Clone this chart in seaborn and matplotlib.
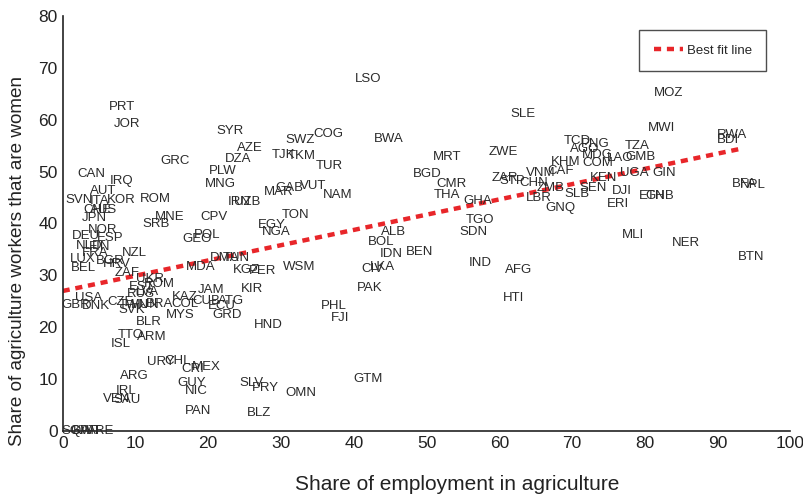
import numpy as np
import pandas as pd
import matplotlib
matplotlib.use('Agg')
import matplotlib.pyplot as plt
import seaborn as sns

sns.set_style('white')
plt.rcParams['font.family'] = ['Liberation Sans', 'DejaVu Sans']

# country codes with (share of employment in agriculture, share of ag workers that are women)
codes = ['LSO', 'PRT', 'JOR', 'SYR', 'SWZ', 'COG', 'BWA', 'AZE', 'TJK', 'TKM',
         'DZA', 'GRC', 'TUR', 'MRT', 'ZWE', 'SLE', 'MOZ', 'MWI', 'RWA', 'BDI',
         'CAN', 'IRQ', 'PLW', 'MNG', 'AUT', 'GAB', 'VUT', 'MAR', 'NAM', 'SVN',
         'ITA', 'KOR', 'ROM', 'CHE', 'AUS', 'JPN', 'MNE', 'CPV', 'SRB', 'IRN',
         'UZB', 'TON', 'EGY', 'NGA', 'POL', 'GEO', 'DEU', 'NOR', 'ESP', 'NLD',
         'FIN', 'FRA', 'NZL', 'LUX', 'BGR', 'HRV', 'BEL', 'ZAF', 'MDA', 'DMA',
         'TUN', 'KGZ', 'PER', 'WSM', 'UKR', 'ROM', 'EST', 'LVA', 'RUS', 'JAM',
         'KIR', 'PAK', 'USA', 'KAZ', 'CUB', 'ATG', 'GBR', 'DNK', 'CZE', 'TWN',
         'SVK', 'HUN', 'BRA', 'COL', 'ECU', 'GRD', 'MYS', 'BLR', 'HND', 'PHL',
         'FJI', 'TTO', 'ARM', 'ISL', 'URY', 'CHL', 'CRI', 'MEX', 'ARG', 'GUY',
         'NIC', 'IRL', 'VEN', 'SAU', 'PAN', 'SLV', 'PRY', 'OMN', 'BLZ', 'GTM',
         'SGP', 'QAT', 'KWT', 'ARE', 'CIV', 'LKA', 'IDN', 'BOL', 'ALB', 'BEN',
         'BGD', 'CMR', 'THA', 'GHA', 'TGO', 'SDN', 'IND', 'AFG', 'HTI', 'ZAR',
         'STP', 'CHN', 'VNM', 'CAF', 'ZMB', 'LBR', 'GNQ', 'SLB', 'SEN', 'KEN',
         'KHM', 'COM', 'TCD', 'PNG', 'AGO', 'MDG', 'TZA', 'LAO', 'GMB', 'UGA',
         'GIN', 'DJI', 'ERI', 'ETH', 'GNB', 'MLI', 'NER', 'BTN', 'BFA', 'NPL']

share_agri = [41.95, 8.1, 8.9, 23.0, 32.6, 36.5, 44.8, 25.7, 30.4, 32.9,
              24.1, 15.4, 36.7, 52.8, 60.5, 63.3, 83.2, 82.3, 92.0, 91.5,
              3.9, 8.1, 22.0, 21.7, 5.6, 31.1, 34.4, 29.7, 37.8, 2.3,
              5.1, 8.1, 12.8, 4.7, 5.6, 4.4, 14.7, 20.8, 12.9, 24.2,
              25.3, 32.0, 28.7, 29.3, 19.9, 18.4, 3.2, 5.5, 6.5, 3.7,
              5.1, 4.4, 9.9, 2.8, 6.5, 7.4, 2.8, 8.8, 19.0, 22.3,
              23.8, 25.2, 27.4, 32.5, 12.0, 13.3, 10.9, 11.7, 10.7, 20.4,
              26.0, 42.2, 3.6, 16.8, 19.7, 23.2, 1.8, 4.5, 8.0, 9.8,
              9.5, 11.3, 13.3, 16.8, 21.9, 22.6, 16.2, 11.8, 28.2, 37.3,
              38.1, 9.4, 12.2, 8.0, 13.5, 15.8, 17.9, 19.7, 9.9, 17.7,
              18.3, 8.7, 7.4, 8.8, 18.6, 26.0, 27.8, 32.7, 27.0, 42.0,
              1.8, 2.8, 3.4, 5.2, 42.5, 44.0, 45.1, 43.7, 45.5, 49.1,
              50.1, 53.5, 52.8, 57.1, 57.4, 56.4, 57.4, 62.7, 61.9, 60.7,
              61.8, 64.8, 65.7, 68.4, 67.0, 65.5, 68.4, 70.7, 72.9, 74.4,
              69.1, 73.5, 70.7, 73.2, 71.8, 73.5, 79.0, 76.6, 79.4, 78.5,
              82.7, 76.9, 76.3, 81.0, 82.1, 78.4, 85.7, 94.6, 93.7, 94.8]

share_women = [67.8, 62.4, 59.2, 57.8, 56.1, 57.2, 56.3, 54.5, 53.2, 53.0,
               52.4, 52.0, 51.1, 52.8, 53.8, 61.1, 65.1, 58.4, 57.0, 56.1,
               49.5, 48.2, 50.1, 47.6, 46.2, 46.8, 47.2, 46.1, 45.5, 44.5,
               44.3, 44.5, 44.7, 42.6, 42.6, 41.0, 41.2, 41.2, 39.9, 44.1,
               44.1, 41.6, 39.7, 38.3, 37.8, 37.0, 37.6, 38.7, 37.2, 35.6,
               35.5, 34.3, 34.3, 33.1, 32.8, 32.2, 31.4, 30.4, 31.6, 33.3,
               33.3, 31.0, 30.8, 31.6, 29.3, 28.3, 27.7, 26.8, 26.4, 27.2,
               27.4, 27.6, 25.6, 25.8, 25.0, 25.0, 24.3, 24.1, 24.9, 24.3,
               23.3, 24.3, 24.5, 24.5, 24.1, 22.4, 22.4, 21.0, 20.4, 24.1,
               21.8, 18.5, 18.1, 16.8, 13.3, 13.5, 11.9, 12.3, 10.6, 9.2,
               7.7, 7.7, 6.2, 6.0, 3.9, 9.2, 8.3, 7.3, 3.5, 10.0,
               0.0, 0.0, 0.0, 0.0, 31.2, 31.6, 34.1, 36.4, 38.3, 34.5,
               49.5, 47.6, 45.5, 44.3, 40.7, 38.3, 32.4, 31.0, 25.6, 48.7,
               48.2, 47.8, 49.7, 50.1, 46.8, 44.9, 43.0, 45.7, 46.8, 48.7,
               51.8, 51.6, 55.9, 55.3, 54.3, 53.2, 54.9, 52.6, 52.8, 49.7,
               49.7, 46.2, 43.7, 45.3, 45.3, 37.8, 36.2, 33.5, 47.6, 47.4]

# best fit line
fit_intercept = 27.0
fit_slope = 0.294
fit_x_range = [0, 93]

df = pd.DataFrame({'code': codes, 'agri': share_agri, 'women': share_women})
fit = pd.DataFrame({'agri': fit_x_range})
fit['women'] = fit_intercept + fit_slope * fit['agri']

fig, ax = plt.subplots(figsize=(8.04, 4.95), dpi=100)
fig.subplots_adjust(left=0.078, right=0.983, bottom=0.129, top=0.968)

sns.lineplot(data=fit, x='agri', y='women', ax=ax, color='#e8262a', lw=3.2,
             linestyle=(0, (1.6, 1.3)), label='Best fit line')

for _, r in df.iterrows():
    ax.text(r['agri'], r['women'], r['code'], ha='center', va='center',
            fontsize=9.5, color='#2a2a2a')

ax.set_xlim(0, 100)
ax.set_ylim(0, 80)
ax.set_xticks(range(0, 101, 10))
ax.set_yticks(range(0, 81, 10))
ax.tick_params(direction='in', length=8, width=1, labelsize=12.5, colors='#222222')
ax.set_xlabel('Share of employment in agriculture', fontsize=15, color='#222222')
ax.set_ylabel('Share of agriculture workers that are women', fontsize=13.6, color='#222222')
ax.xaxis.set_label_coords(0.542, -0.105)
ax.yaxis.set_label_coords(-0.05, 0.41)

for s in ['top', 'right']:
    ax.spines[s].set_visible(False)
for s in ['left', 'bottom']:
    ax.spines[s].set_color('#222222')
    ax.spines[s].set_linewidth(1.2)

leg = ax.legend(loc='upper right', bbox_to_anchor=(0.967, 0.966), borderaxespad=0,
                fontsize=9.5, frameon=True, fancybox=False, borderpad=1.1,
                handlelength=2.2, handletextpad=0.3)
leg.get_frame().set_edgecolor('#222222')
leg.get_frame().set_linewidth(1.0)

plt.savefig('out.png', dpi=100)
